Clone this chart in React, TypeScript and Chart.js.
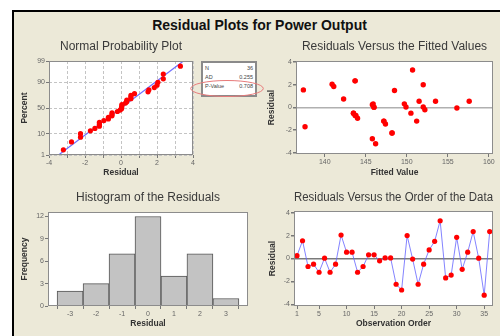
import React, { useEffect, useRef } from "react";
import { Chart, registerables } from "chart.js";

Chart.register(...registerables);

// ---------------- data ----------------
const observationOrder = [
  1, 2, 3, 4, 5, 6, 7, 8, 9, 10, 11, 12, 13, 14, 15, 16, 17, 18,
  19, 20, 21, 22, 23, 24, 25, 26, 27, 28, 29, 30, 31, 32, 33, 34, 35, 36,
];
const residuals = [
  0.25, 1.55, -0.7, -0.5, -1.2, 0.03, -1.2, -0.5, 2.05, 0.55, 0.55, -1.2,
  -0.7, 0.32, 0.32, -0.2, 0.05, 0.05, -2.25, -2.75, 2.0, -0.05, -2.25, -0.5,
  0.75, 1.5, 3.3, -1.7, -1.45, 1.85, -0.95, 0.55, 2.35, 0.03, -3.2, 2.35,
];
const fittedValues = [
  145.8, 137.4, 143.7, 143.5, 147.2, 146.0, 151.2, 150.5, 140.9, 151.5, 153.5, 147.2,
  143.8, 149.7, 145.9, 152.2, 149.9, 152.0, 148.2, 145.8, 152.0, 156.1, 148.2, 143.5,
  142.3, 148.5, 150.7, 137.6, 147.4, 141.1, 144.0, 157.6, 143.7, 146.0, 146.2, 143.7,
];
// normal-plot plotting positions (percent) for the sorted residuals
const probPercent = [
  1.92, 4.67, 7.42, 10.16, 12.91, 15.66, 18.41, 21.15, 23.9, 26.65, 29.4, 32.14,
  34.89, 37.64, 40.38, 43.13, 45.88, 48.63, 51.37, 54.12, 56.87, 59.62, 62.36, 65.11,
  67.86, 70.6, 73.35, 76.1, 78.85, 81.59, 84.34, 87.09, 89.84, 92.58, 95.33, 98.08,
];
const fitLineResidual = [-3.47, 3.47];
const fitLinePercent = [1, 99];

const histBins = [-3, -2, -1, 0, 1, 2, 3];
const histCounts = [2, 3, 7, 12, 4, 7, 1];

// tick lists
const probPercentTicks = [1, 10, 50, 90, 99];
const probResidualTicks = [-4, -3, -2, -1, 0, 1, 2, 3, 4];
const probResidualLabels = ["-4", "", "-2", "", "0", "", "2", "", "4"];
const residualTicks = [-4, -2, 0, 2, 4];
const fittedTicks = [140, 145, 150, 155, 160];
const orderTicks = [1, 5, 10, 15, 20, 25, 30, 35];
const freqTicks = [0, 3, 6, 9, 12];

const statsLabels = ["N", "AD", "P-Value"];
const statsValues = ["36", "0.255", "0.708"];

// ---------------- helpers ----------------
const FONT = "'Liberation Sans', Arial, sans-serif";
const RED = "#ff0000";

function invNorm(p: number): number {
  const a = [-3.969683028665376e1, 2.209460984245205e2, -2.759285104469687e2, 1.38357751867269e2, -3.066479806614716e1, 2.506628277459239];
  const b = [-5.447609879822406e1, 1.615858368580409e2, -1.556989798598866e2, 6.680131188771972e1, -1.328068155288572e1];
  const c = [-7.784894002430293e-3, -3.223964580411365e-1, -2.400758277161838, -2.549732539343734, 4.374664141464968, 2.938163982698783];
  const d = [7.784695709041462e-3, 3.224671290700398e-1, 2.445134137142996, 3.754408661907416];
  const plow = 0.02425;
  if (p < plow) {
    const q = Math.sqrt(-2 * Math.log(p));
    return (((((c[0] * q + c[1]) * q + c[2]) * q + c[3]) * q + c[4]) * q + c[5]) / ((((d[0] * q + d[1]) * q + d[2]) * q + d[3]) * q + 1);
  }
  if (p <= 1 - plow) {
    const q = p - 0.5;
    const r = q * q;
    return ((((((a[0] * r + a[1]) * r + a[2]) * r + a[3]) * r + a[4]) * r + a[5]) * q) / (((((b[0] * r + b[1]) * r + b[2]) * r + b[3]) * r + b[4]) * r + 1);
  }
  const q = Math.sqrt(-2 * Math.log(1 - p));
  return -(((((c[0] * q + c[1]) * q + c[2]) * q + c[3]) * q + c[4]) * q + c[5]) / ((((d[0] * q + d[1]) * q + d[2]) * q + d[3]) * q + 1);
}
const zOf = (pct: number) => invNorm(pct / 100);

const plotFrame = {
  id: "plotFrame",
  beforeDraw(chart: any) {
    const { ctx, chartArea: a } = chart;
    ctx.save();
    ctx.fillStyle = "#ffffff";
    ctx.fillRect(a.left, a.top, a.right - a.left, a.bottom - a.top);
    ctx.restore();
  },
  afterDraw(chart: any) {
    const { ctx, chartArea: a } = chart;
    ctx.save();
    ctx.strokeStyle = "#8c8c8c";
    ctx.lineWidth = 1;
    ctx.strokeRect(Math.round(a.left) + 0.5, Math.round(a.top) + 0.5, Math.round(a.right - a.left) - 1, Math.round(a.bottom - a.top) - 1);
    ctx.restore();
  },
};

type AxisOpts = {
  min: number;
  max: number;
  ticks: number[];
  labels?: string[];
  size: number;
  title: string;
  titlePad: number;
  gridColor?: any;
  gridWidth?: number;
  dash?: number[];
  horizontal: boolean;
};

function axis(o: AxisOpts) {
  return {
    type: "linear",
    min: o.min,
    max: o.max,
    offset: false,
    afterBuildTicks: (s: any) => {
      s.ticks = o.ticks.map((v) => ({ value: v }));
    },
    afterFit: (s: any) => {
      if (o.horizontal) s.height = o.size;
      else s.width = o.size;
    },
    ticks: {
      font: { family: FONT, size: 7 },
      color: "#666666",
      padding: 1,
      maxRotation: 0,
      minRotation: 0,
      autoSkip: false,
      callback: (v: any, i: number) => (o.labels ? o.labels[i] : String(v)),
    },
    grid: {
      display: true,
      drawOnChartArea: !!o.gridColor,
      color: o.gridColor || "rgba(0,0,0,0)",
      lineWidth: o.gridWidth || 1,
      tickColor: "#777",
      tickLength: 3,
      drawTicks: true,
    },
    border: { display: false, dash: o.dash || [] },
    title: {
      display: true,
      text: o.title,
      font: { family: FONT, size: 8.5, weight: "bold" },
      color: "#333",
      padding: o.horizontal ? { top: 0, bottom: o.titlePad } : { top: o.titlePad, bottom: 0 },
    },
  };
}

function baseOptions(title: string, padTop: number, padBottom: number, rightPad: number, scales: any) {
  return {
    responsive: false,
    animation: false,
    devicePixelRatio: 1,
    events: [],
    layout: { padding: { left: 0, right: rightPad, top: 0, bottom: 0 } },
    plugins: {
      legend: { display: false },
      tooltip: { enabled: false },
      title: {
        display: true,
        text: title,
        fullSize: false,
        color: "#3a3a3a",
        font: { family: FONT, size: 12, weight: "normal", lineHeight: 1.2 },
        padding: { top: padTop, bottom: padBottom },
      },
    },
    scales,
  };
}

const zeroLine = (color: string) => (ctx: any) =>
  ctx.tick && ctx.tick.value === 0 ? color : "rgba(0,0,0,0)";

// ---------------- chart configs ----------------
function probConfig(): any {
  const sorted = [...residuals].sort((a, b) => a - b);
  return {
    type: "scatter",
    data: {
      datasets: [
        {
          data: sorted.map((r, i) => ({ x: r, y: zOf(probPercent[i]) })),
          pointRadius: 2.6,
          pointBackgroundColor: RED,
          pointBorderColor: RED,
          pointBorderWidth: 0,
          showLine: false,
        },
        {
          data: fitLineResidual.map((r, i) => ({ x: r, y: zOf(fitLinePercent[i]) })),
          showLine: true,
          pointRadius: 0,
          borderColor: "#6e6eff",
          borderWidth: 1.2,
        },
      ],
    },
    options: baseOptions("Normal Probability Plot", 3.5, 7.1, 7, {
      x: axis({
        min: -4, max: 4, ticks: probResidualTicks, labels: probResidualLabels, size: 25,
        title: "Residual", titlePad: 1.9, gridColor: "#c4c4c4", dash: [3, 2], horizontal: true,
      }),
      y: axis({
        min: zOf(1), max: zOf(99), ticks: probPercentTicks.map(zOf),
        labels: probPercentTicks.map(String), size: 35, title: "Percent", titlePad: 5.2,
        gridColor: "#c4c4c4", dash: [3, 2], horizontal: false,
      }),
    }),
    plugins: [plotFrame],
  };
}

function fittedConfig(): any {
  return {
    type: "scatter",
    data: {
      datasets: [
        {
          data: fittedValues.map((f, i) => ({ x: f, y: residuals[i] })),
          pointRadius: 2.7,
          pointBackgroundColor: RED,
          pointBorderColor: RED,
          pointBorderWidth: 0,
        },
      ],
    },
    options: baseOptions("Residuals Versus the Fitted Values", 3.5, 7.1, 7, {
      x: axis({
        min: 136.5, max: 160.5, ticks: fittedTicks, size: 26, title: "Fitted Value",
        titlePad: 2.2, horizontal: true,
      }),
      y: axis({
        min: -4.1, max: 4.1, ticks: residualTicks, size: 44, title: "Residual", titlePad: 14.9,
        gridColor: zeroLine("#b0b0b0"), gridWidth: 1.5, horizontal: false,
      }),
    }),
    plugins: [plotFrame],
  };
}

function histConfig(): any {
  return {
    type: "bar",
    data: {
      datasets: [
        {
          data: histBins.map((b, i) => ({ x: b, y: histCounts[i] })),
          backgroundColor: "#c3c3c3",
          borderColor: "#555555",
          borderWidth: 1,
          barPercentage: 1,
          categoryPercentage: 1,
        },
      ],
    },
    options: baseOptions("Histogram of the Residuals", 10.8, 6.8, 2, {
      x: axis({
        min: -3.85, max: 3.85, ticks: histBins, size: 30, title: "Residual", titlePad: 7.2,
        horizontal: true,
      }),
      y: axis({
        min: 0, max: 12.6, ticks: freqTicks, size: 34, title: "Frequency", titlePad: 5.2,
        horizontal: false,
      }),
    }),
    plugins: [plotFrame],
  };
}

function orderConfig(): any {
  return {
    type: "scatter",
    data: {
      datasets: [
        {
          data: observationOrder.map((o, i) => ({ x: o, y: residuals[i] })),
          showLine: true,
          borderColor: "rgba(100,100,255,0.8)",
          borderWidth: 1,
          pointRadius: 2.6,
          pointBackgroundColor: RED,
          pointBorderColor: RED,
          pointBorderWidth: 0,
        },
      ],
    },
    options: baseOptions("Residuals Versus the Order of the Data", 10.8, 5.8, 7, {
      x: axis({
        min: 0.45, max: 36.6, ticks: orderTicks, size: 30, title: "Observation Order",
        titlePad: 7.2, horizontal: true,
      }),
      y: axis({
        min: -4.15, max: 4.15, ticks: residualTicks, size: 42, title: "Residual", titlePad: 15.2,
        gridColor: zeroLine("#7a7a7a"), gridWidth: 1.5, horizontal: false,
      }),
    }),
    plugins: [plotFrame],
  };
}

// ---------------- components ----------------
function ChartBox(props: { left: number; top: number; width: number; height: number; make: () => any }) {
  const ref = useRef<HTMLCanvasElement>(null);
  useEffect(() => {
    const chart = new Chart(ref.current as HTMLCanvasElement, props.make());
    return () => chart.destroy();
  }, []);
  return (
    <canvas
      ref={ref}
      width={props.width}
      height={props.height}
      style={{ position: "absolute", left: props.left, top: props.top, width: props.width, height: props.height }}
    />
  );
}

export default function App() {
  return (
    <div
      style={{
        position: "fixed",
        left: 0,
        top: 0,
        width: 500,
        height: 336,
        background: "#ffffff",
        overflow: "hidden",
        fontFamily: FONT,
      }}
    >
      <div
        style={{
          position: "absolute",
          left: 12,
          top: 10,
          width: 520,
          height: 360,
          borderLeft: "2px solid #000",
          borderTop: "2px solid #000",
          background: "#ece9d8",
        }}
      />
      <div
        style={{
          position: "absolute",
          left: 19,
          top: 16,
          width: 481,
          textAlign: "center",
          fontSize: 14,
          lineHeight: "18px",
          fontWeight: "bold",
          color: "#111",
          whiteSpace: "nowrap",
        }}
      >
        Residual Plots for Power Output
      </div>

      <ChartBox left={14} top={36} width={186} height={144} make={probConfig} />
      <ChartBox left={252} top={36} width={248} height={144} make={fittedConfig} />
      <ChartBox left={14} top={180} width={236} height={156} make={histConfig} />
      <ChartBox left={252} top={180} width={248} height={156} make={orderConfig} />

      <div
        style={{
          position: "absolute",
          left: 201,
          top: 61,
          width: 48,
          height: 30,
          border: "2px solid #8a8a8a",
          background: "#ffffff",
          padding: "1px 2px",
          boxSizing: "content-box",
        }}
      >
        {statsLabels.map((lab, i) => (
          <div
            key={lab}
            style={{
              display: "flex",
              justifyContent: "space-between",
              fontSize: 5.5,
              lineHeight: "9px",
              color: "#444",
            }}
          >
            <span>{lab}</span>
            <span>{statsValues[i]}</span>
          </div>
        ))}
      </div>

      <svg
        width={500}
        height={336}
        style={{ position: "absolute", left: 0, top: 0, pointerEvents: "none" }}
      >
        <ellipse cx={227} cy={88.5} rx={36.3} ry={8} fill="none" stroke="#e77a7a" strokeWidth={1} />
      </svg>
    </div>
  );
}
